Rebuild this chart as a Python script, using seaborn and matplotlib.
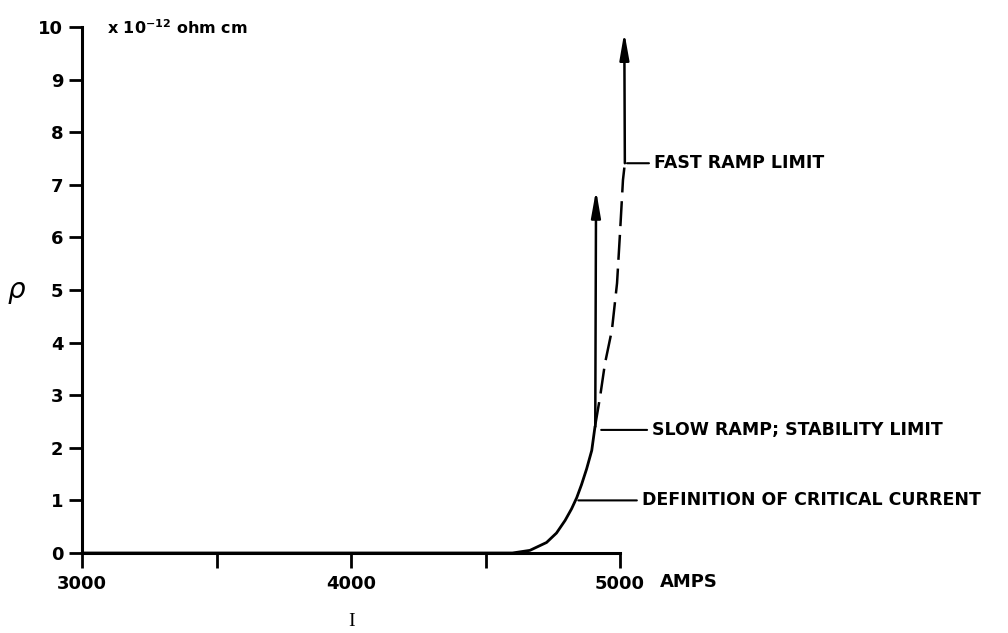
import numpy as np
import pandas as pd
import matplotlib
matplotlib.use("Agg")
import matplotlib.pyplot as plt
import seaborn as sns

# ---- data ----
curve_I = [3000, 3500, 4000, 4500, 4600, 4665, 4727, 4764, 4796, 4820, 4839, 4857, 4876, 4895, 4907]
curve_rho = [0, 0, 0, 0, 0, 0.05, 0.2, 0.38, 0.62, 0.84, 1.05, 1.3, 1.6, 1.95, 2.4]

fast_I = [4907, 4926, 4944, 4970, 4989, 5000, 5011, 5018]
fast_rho = [2.4, 2.97, 3.6, 4.24, 5.13, 6.08, 7.09, 7.41]

fast_arrow_I = [5018, 5016]
fast_arrow_rho = [7.41, 9.9]

slow_arrow_I = [4908, 4911]
slow_arrow_rho = [2.4, 6.9]

x_major = [3000, 4000, 5000]
x_minor = [3500, 4500]
y_ticks = list(range(0, 11))

labels = ["FAST RAMP LIMIT", "SLOW RAMP; STABILITY LIMIT", "DEFINITION OF CRITICAL CURRENT"]
label_point_I = [5026, 4930, 4845]
label_text_I = [5125, 5118, 5080]
label_rho = [7.41, 2.34, 1.0]

sns.set_style("ticks")
plt.rcParams["font.family"] = ["DejaVu Sans"]

W, H = 1008, 633
fig = plt.figure(figsize=(W / 100, H / 100), dpi=100)
ax = fig.add_axes([82 / W, 1 - 553 / H, (620 - 82) / W, (553 - 27) / H])

df_curve = pd.DataFrame({"I": curve_I, "rho": curve_rho})
df_fast = pd.DataFrame({"I": fast_I, "rho": fast_rho})

sns.lineplot(data=df_curve, x="I", y="rho", ax=ax, color="black", lw=2.0,
             sort=False, estimator=None, clip_on=False)
sns.lineplot(data=df_fast, x="I", y="rho", ax=ax, color="black", lw=1.8,
             sort=False, estimator=None, dashes=False, clip_on=False)
ax.lines[-1].set_dashes((10, 3.5))

arrow_style = "-|>,head_length=1.6,head_width=0.28"
ax.annotate("", xy=(fast_arrow_I[1], fast_arrow_rho[1]),
            xytext=(fast_arrow_I[0], fast_arrow_rho[0]),
            arrowprops=dict(arrowstyle=arrow_style, color="black", lw=1.8,
                            shrinkA=0, shrinkB=0), annotation_clip=False)
ax.annotate("", xy=(slow_arrow_I[1], slow_arrow_rho[1]),
            xytext=(slow_arrow_I[0], slow_arrow_rho[0]),
            arrowprops=dict(arrowstyle=arrow_style, color="black", lw=1.8,
                            shrinkA=0, shrinkB=0), annotation_clip=False)

for lab, xp, xt, yv in zip(labels, label_point_I, label_text_I, label_rho):
    ax.annotate(lab, xy=(xp, yv), xytext=(xt, yv), ha="left", va="center",
                fontsize=12.5, fontweight="bold", color="black", annotation_clip=False,
                arrowprops=dict(arrowstyle="-", color="black", lw=1.5,
                                shrinkA=1, shrinkB=0))

ax.set_xlim(3000, 5000)
ax.set_ylim(0, 10)
ax.set_xticks(x_major)
ax.set_xticks(x_minor, minor=True)
ax.set_yticks(y_ticks)
ax.set_xticklabels([str(v) for v in x_major], fontsize=13, fontweight="bold", color="black")
ax.set_yticklabels([str(v) for v in y_ticks], fontsize=13, fontweight="bold", color="black")
ax.tick_params(axis="x", which="both", direction="out", length=11, width=2.0, pad=5, color="black")
ax.tick_params(axis="y", direction="out", length=9.5, width=2.0, pad=4, color="black")
ax.set_xlabel("")
ax.set_ylabel("")
for s in ["top", "right"]:
    ax.spines[s].set_visible(False)
for s in ["left", "bottom"]:
    ax.spines[s].set_linewidth(2.2)
    ax.spines[s].set_color("black")
ax.set_facecolor("white")
fig.patch.set_facecolor("white")

fig.text(107 / W, 1 - 28 / H, r"x 10$^{\mathbf{-12}}$ ohm cm", fontsize=11.5, fontweight="bold",
         ha="left", va="center", color="black")
fig.text(660 / W, 1 - 582 / H, "AMPS", fontsize=13, fontweight="bold", ha="left", va="center",
         color="black")
fig.text(16 / W, 1 - 290 / H, "ρ", fontsize=20, style="italic", ha="center", va="center",
         color="black")
fig.text(352 / W, 1 - 622 / H, "I", fontsize=14, ha="center", va="center", color="black",
         family=["Liberation Serif", "DejaVu Serif"])

fig.savefig("out.png", dpi=100)
